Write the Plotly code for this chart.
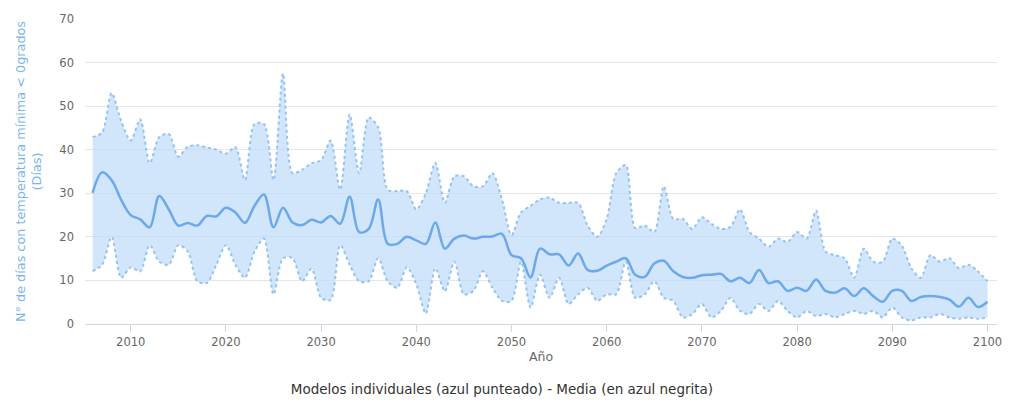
import plotly.graph_objects as go

# Years covered by the projections
years = list(range(2006, 2101))

# Multi-model mean (bold line)
media = [
    30.1, 34.8, 33.0, 28.5, 25.0, 24.0, 22.2, 29.4, 26.3, 22.6,
    23.2, 22.6, 24.8, 24.7, 26.7, 25.6, 23.2, 27.1, 29.7, 22.2,
    26.7, 23.3, 22.7, 23.9, 23.3, 24.8, 23.0, 29.2, 21.1, 21.8,
    28.6, 18.4, 18.4, 20.0, 19.2, 18.4, 23.3, 17.3, 19.6, 20.3,
    19.6, 20.0, 20.1, 20.7, 15.8, 15.1, 10.7, 17.3, 16.0, 16.0,
    13.4, 16.2, 12.4, 12.2, 13.4, 14.3, 15.1, 11.3, 10.8, 13.9,
    14.5, 12.1, 10.8, 10.6, 11.2, 11.3, 11.5, 9.8, 10.6, 9.4,
    12.4, 9.4, 9.8, 7.6, 8.3, 7.6, 10.2, 7.6, 7.2, 8.2,
    6.4, 8.2, 6.4, 5.1, 7.6, 7.6, 5.3, 6.2, 6.4, 6.2,
    5.6, 4.0, 6.0, 3.9, 5.1,
]

# Highest value among the individual models for each year
modelos_max = [
    42.9, 44.0, 53.0, 46.6, 42.1, 47.0, 36.9, 42.9, 43.6, 38.4,
    40.7, 41.0, 40.5, 40.0, 39.1, 40.6, 33.0, 45.9, 45.9, 33.0,
    57.5, 34.6, 35.4, 36.9, 37.6, 42.1, 30.8, 48.1, 34.6, 47.4,
    45.1, 30.8, 30.5, 30.5, 26.3, 30.0, 37.0, 27.8, 33.9, 33.9,
    31.6, 31.6, 34.6, 28.6, 20.4, 25.6, 27.1, 28.6, 29.0, 27.8,
    27.8, 27.8, 22.6, 20.0, 24.1, 34.6, 36.5, 22.0, 22.6, 21.1,
    31.6, 24.1, 24.1, 21.8, 24.5, 23.0, 21.8, 22.3, 26.3, 21.1,
    19.6, 17.7, 19.6, 18.8, 21.1, 19.6, 26.0, 16.6, 15.8, 15.1,
    10.6, 17.3, 14.3, 14.3, 19.6, 18.0, 12.8, 10.6, 15.8, 14.3,
    15.1, 12.8, 13.6, 12.1, 9.8,
]

# Lowest value among the individual models for each year
modelos_min = [
    12.1, 13.6, 20.0, 10.6, 13.0, 12.1, 18.1, 14.3, 13.6, 18.1,
    16.6, 9.8, 9.4, 13.6, 18.1, 13.6, 10.6, 16.6, 19.6, 6.8,
    15.1, 15.1, 9.8, 12.7, 6.0, 5.5, 18.1, 13.6, 9.8, 9.8,
    15.1, 9.8, 8.3, 13.0, 9.1, 2.4, 12.8, 7.5, 14.3, 6.8,
    7.6, 12.1, 8.3, 5.3, 5.3, 14.3, 3.8, 11.3, 6.0, 10.6,
    4.6, 6.8, 8.3, 5.3, 6.8, 6.8, 14.3, 6.0, 6.8, 9.8,
    6.0, 5.3, 1.5, 2.3, 4.6, 1.5, 3.0, 6.0, 3.0, 2.3,
    4.6, 3.0, 5.3, 3.0, 1.5, 3.0, 1.8, 2.3, 1.5, 2.3,
    3.0, 2.3, 3.0, 1.5, 3.8, 1.5, 0.8, 1.5, 1.5, 2.3,
    1.5, 1.2, 1.5, 1.2, 1.5,
]

y_ticks = [0, 10, 20, 30, 40, 50, 60, 70]
x_ticks = [2010, 2020, 2030, 2040, 2050, 2060, 2070, 2080, 2090, 2100]

FONT = "DejaVu Sans"
BAND_FILL = "rgba(190,220,248,0.7)"
DOT_COLOR = "rgba(140,190,240,0.9)"
MEAN_COLOR = "rgb(108,168,234)"

fig = go.Figure()

# Envelope of the individual models (dotted edges + light fill)
fig.add_trace(go.Scatter(
    x=years, y=modelos_min, mode="lines",
    line=dict(color=DOT_COLOR, width=2, dash="dot", shape="spline", smoothing=0.8),
    hoverinfo="skip", showlegend=False,
))
fig.add_trace(go.Scatter(
    x=years, y=modelos_max, mode="lines", fill="tonexty", fillcolor=BAND_FILL,
    line=dict(color=DOT_COLOR, width=2, dash="dot", shape="spline", smoothing=0.8),
    hoverinfo="skip", showlegend=False,
))

# Mean of all models
fig.add_trace(go.Scatter(
    x=years, y=media, mode="lines", name="Media",
    line=dict(color=MEAN_COLOR, width=2.5, shape="spline", smoothing=1.0),
    showlegend=False,
))

fig.update_layout(
    width=1014, height=404,
    margin=dict(l=85, r=17, t=13, b=80),
    paper_bgcolor="white", plot_bgcolor="white",
    font=dict(family=FONT, size=11, color="#666666"),
    title=dict(
        text="Modelos individuales (azul punteado) - Media (en azul negrita)",
        font=dict(family=FONT, size=13.5, color="#333333"),
        xref="container", x=0.495, xanchor="center",
        yref="container", y=(404 - 389) / 404, yanchor="middle",
    ),
    xaxis=dict(
        range=[2005.2, 2101.0],
        tickmode="array", tickvals=x_ticks, ticktext=[str(v) for v in x_ticks],
        showgrid=False, zeroline=False,
        showline=True, linecolor="#ccd6eb", linewidth=1,
        ticks="outside", ticklen=7, tickcolor="#ccd6eb",
        tickfont=dict(family=FONT, size=11.5, color="#666666"),
        title=dict(text="Año", font=dict(family=FONT, size=12.5, color="#666666"), standoff=4),
    ),
    yaxis=dict(
        range=[0, 70],
        tickmode="array", tickvals=y_ticks, ticktext=[str(v) for v in y_ticks],
        showgrid=True, gridcolor="#e6e6e6", gridwidth=1, zeroline=False,
        showline=False, ticks="", ticklabelstandoff=10,
        tickfont=dict(family=FONT, size=11.5, color="#666666"),
        title=dict(
            text="N° de días con temperatura mínima < 0grados<br>(Días)",
            font=dict(family=FONT, size=12.8, color="#7cb5ec"), standoff=14,
        ),
    ),
)

fig.write_html("out.html")
